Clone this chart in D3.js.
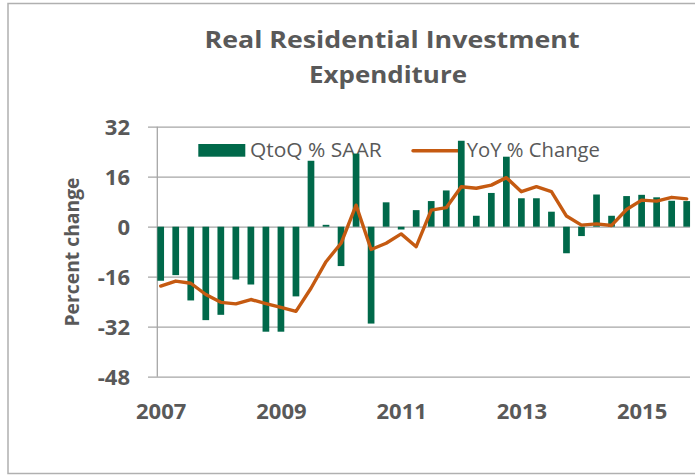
<!DOCTYPE html>
<html>
<head>
<meta charset="utf-8">
<script src="https://cdn.jsdelivr.net/npm/d3@7"></script>
<style>
  body { margin: 0; background: #fff; }
  svg { display: block; font-family: 'Open Sans', 'Noto Sans', sans-serif; }
</style>
</head>
<body>
<div id="chart"></div>
<script>
const quarters = [
  '2007Q1', '2007Q2', '2007Q3', '2007Q4',
  '2008Q1', '2008Q2', '2008Q3', '2008Q4',
  '2009Q1', '2009Q2', '2009Q3', '2009Q4',
  '2010Q1', '2010Q2', '2010Q3', '2010Q4',
  '2011Q1', '2011Q2', '2011Q3', '2011Q4',
  '2012Q1', '2012Q2', '2012Q3', '2012Q4',
  '2013Q1', '2013Q2', '2013Q3', '2013Q4',
  '2014Q1', '2014Q2', '2014Q3', '2014Q4',
  '2015Q1', '2015Q2', '2015Q3', '2015Q4'
]

// QtoQ % SAAR
const qoq = [
  -17.3, -15.5, -23.6, -29.9,
  -28.2, -16.9, -18.5, -33.6,
  -33.6, -22.3, 21.1, 0.6,
  -12.6, 23.4, -31.0, 7.8,
  -0.9, 5.3, 8.2, 11.6,
  27.5, 3.5, 10.8, 22.4,
  9.1, 9.1, 4.8, -8.5,
  -3.0, 10.3, 3.5, 9.8,
  10.2, 9.4, 8.3, 8.2
]

// YoY % Change
const yoy = [
  -19.0, -17.4, -18.1, -21.7,
  -24.2, -24.7, -23.3, -24.6,
  -25.8, -27.1, -19.7, -11.2,
  -5.3, 6.9, -7.3, -5.3,
  -2.3, -6.4, 5.3, 6.1,
  12.8, 12.3, 13.3, 15.7,
  11.2, 12.8, 11.2, 3.4,
  0.5, 0.9, 0.4, 5.5,
  8.5, 8.2, 9.4, 8.9
]

const yTicks = [-48, -32, -16, 0, 16, 32]
const xTicks = ['2007Q1', '2009Q1', '2011Q1', '2013Q1', '2015Q1']
const seriesNames = ['QtoQ % SAAR', 'YoY % Change']

const W = 695
const H = 475
const textColor = '#595959'
const barColor = '#00694A'
const lineColor = '#C55A11'
const gridColor = '#a6a6a6'

const plot = { left: 157.3, right: 690, top: 126.7, bottom: 376.7, gridLeft: 148 }

const svg = d3.select('#chart').append('svg')
  .attr('width', W)
  .attr('height', H)

// chart frame
svg.append('rect')
  .attr('x', 8)
  .attr('y', 3.5)
  .attr('width', 720)
  .attr('height', 470)
  .attr('fill', 'none')
  .attr('stroke', '#b0b0b0')
  .attr('stroke-width', 1.5)

const x = d3.scalePoint()
  .domain(quarters)
  .range([160.7, 686.7])

const y = d3.scaleLinear()
  .domain([-48, 32])
  .range([plot.bottom, plot.top])

// title
const title = svg.append('text')
  .attr('text-anchor', 'middle')
  .attr('fill', textColor)
  .attr('font-weight', 700)
  .attr('font-size', 23)
title.append('tspan').attr('x', 392).attr('y', 48.3)
  .attr('textLength', 375).attr('lengthAdjust', 'spacingAndGlyphs')
  .text('Real Residential Investment')
title.append('tspan').attr('x', 388).attr('y', 83.3)
  .attr('textLength', 158).attr('lengthAdjust', 'spacingAndGlyphs')
  .text('Expenditure')

// y axis with gridlines
const yAxis = svg.append('g')
  .attr('transform', `translate(${plot.gridLeft},0)`)
  .call(d3.axisLeft(y)
    .tickValues(yTicks)
    .tickSize(-(plot.right - plot.gridLeft))
    .tickPadding(18)
    .tickFormat((d) => String(d)))

yAxis.select('.domain').remove()
yAxis.selectAll('.tick line')
  .attr('stroke', gridColor)
  .attr('stroke-width', 1.3)
yAxis.selectAll('.tick text')
  .attr('fill', textColor)
  .attr('font-size', 22)
  .attr('font-weight', 700)
  .attr('font-family', "'Open Sans', sans-serif")
  .attr('dy', '0.36em')

svg.append('line')
  .attr('x1', plot.left).attr('x2', plot.left)
  .attr('y1', plot.top).attr('y2', plot.bottom)
  .attr('stroke', gridColor)
  .attr('stroke-width', 1.3)

svg.append('text')
  .attr('transform', 'translate(79,252) rotate(-90)')
  .attr('text-anchor', 'middle')
  .attr('fill', textColor)
  .attr('font-size', 19)
  .attr('font-weight', 700)
  .attr('textLength', 149)
  .attr('lengthAdjust', 'spacingAndGlyphs')
  .text('Percent change')

// x axis labels
const xAxis = svg.append('g')
  .attr('transform', `translate(0,${plot.bottom})`)
  .call(d3.axisBottom(x)
    .tickValues(xTicks)
    .tickSize(0)
    .tickFormat((d) => d.slice(0, 4)))

xAxis.select('.domain').remove()
xAxis.selectAll('.tick text')
  .attr('fill', textColor)
  .attr('font-size', 22)
  .attr('font-weight', 700)
  .attr('font-family', "'Open Sans', sans-serif")
  .attr('y', 42.6)
  .attr('dy', 0)

// legend (drawn under the marks)
const legend = svg.append('g')
legend.append('rect')
  .attr('x', 198.3).attr('y', 144)
  .attr('width', 47).attr('height', 12.7)
  .attr('fill', barColor)
legend.append('text')
  .attr('x', 250).attr('y', 156.7)
  .attr('fill', textColor)
  .attr('font-size', 19.5)
  .attr('textLength', 131.7)
  .attr('lengthAdjust', 'spacingAndGlyphs')
  .text(seriesNames[0])
legend.append('line')
  .attr('x1', 413).attr('x2', 461.7)
  .attr('y1', 150.7).attr('y2', 150.7)
  .attr('stroke', lineColor)
  .attr('stroke-width', 3.4)
  .attr('stroke-linecap', 'round')
legend.append('text')
  .attr('x', 466.7).attr('y', 156.7)
  .attr('fill', textColor)
  .attr('font-size', 19.5)
  .attr('textLength', 133.3)
  .attr('lengthAdjust', 'spacingAndGlyphs')
  .text(seriesNames[1])

// bars
const barWidth = 6.7
svg.append('g')
  .selectAll('rect')
  .data(quarters)
  .join('rect')
  .attr('x', (d) => x(d) - barWidth / 2)
  .attr('y', (d, i) => y(Math.max(0, qoq[i])))
  .attr('width', barWidth)
  .attr('height', (d, i) => Math.abs(y(qoq[i]) - y(0)))
  .attr('fill', barColor)

// YoY line
const line = d3.line()
  .x((d) => x(d))
  .y((d, i) => y(yoy[i]))

svg.append('path')
  .datum(quarters)
  .attr('d', line)
  .attr('fill', 'none')
  .attr('stroke', lineColor)
  .attr('stroke-width', 3.4)
  .attr('stroke-linejoin', 'round')
  .attr('stroke-linecap', 'round')
</script>
</body>
</html>
